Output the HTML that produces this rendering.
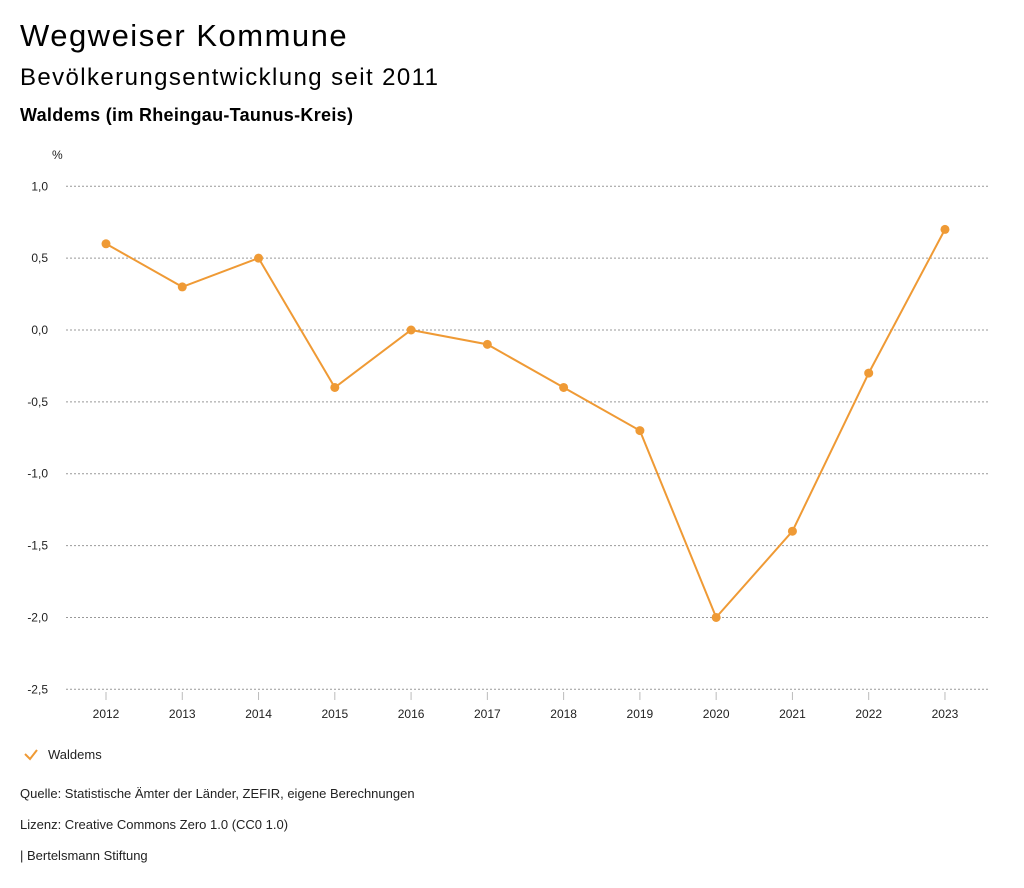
<!DOCTYPE html>
<html><head><meta charset="utf-8"><style>
body{margin:0;width:1024px;height:888px;background:#fff;font-family:"Liberation Sans",sans-serif;color:#000;position:relative;overflow:hidden}
.t{position:absolute;white-space:nowrap}
</style></head><body>
<div class="t" style="left:20px;top:18px;font-size:31px;letter-spacing:1.5px">Wegweiser Kommune</div>
<div class="t" style="left:20px;top:64px;font-size:24px;letter-spacing:1.4px">Bevölkerungsentwicklung seit 2011</div>
<div class="t" style="left:20px;top:105px;font-size:18px;font-weight:bold;letter-spacing:0.3px">Waldems (im Rheingau-Taunus-Kreis)</div>
<svg id="chart" width="1024" height="888" style="position:absolute;left:0;top:0"></svg>
<div class="t" style="left:20px;top:786px;font-size:13px;color:#222">Quelle: Statistische Ämter der Länder, ZEFIR, eigene Berechnungen</div>
<div class="t" style="left:20px;top:817px;font-size:13px;color:#222">Lizenz: Creative Commons Zero 1.0 (CC0 1.0)</div>
<div class="t" style="left:20px;top:848px;font-size:13px;color:#222">| Bertelsmann Stiftung</div>
<script>
const years=["2012","2013","2014","2015","2016","2017","2018","2019","2020","2021","2022","2023"];
const values=[0.6,0.3,0.5,-0.4,0.0,-0.1,-0.4,-0.7,-2.0,-1.4,-0.3,0.7];
const yTicks=[1.0,0.5,0.0,-0.5,-1.0,-1.5,-2.0,-2.5];
const yTickLabels=["1,0","0,5","0,0","-0,5","-1,0","-1,5","-2,0","-2,5"];
const seriesName="Waldems";
const NS="http://www.w3.org/2000/svg";
const svg=document.getElementById('chart');
const col="#ef9a35";
function y(v){return 330-(v/0.5)*71.86;}
function x(i){return 106+i*76.27;}
function mk(t,a,p){const e=document.createElementNS(NS,t);for(const k in a)e.setAttribute(k,a[k]);(p||svg).appendChild(e);return e;}
let u=mk('text',{x:52,y:159,'font-size':12,fill:'#222'});u.textContent='%';


yTicks.forEach((v,i)=>{
 const g=mk('line',{x1:66,x2:990,y1:y(v),y2:y(v),stroke:'#999','stroke-dasharray':'2,2','stroke-width':1});
 
 
 const t=mk('text',{x:48,y:y(v)+4,'text-anchor':'end','font-size':12,fill:'#222'});t.textContent=yTickLabels[i];
 
 
});
years.forEach((yr,i)=>{
 const l=mk('line',{x1:x(i),x2:x(i),y1:692,y2:700,stroke:'#bbb'});
 
 
 const t=mk('text',{x:x(i),y:718,'text-anchor':'middle','font-size':12,fill:'#222'});t.textContent=yr;
 
 
});
const pl=mk('polyline',{points:values.map((v,i)=>x(i)+','+y(v)).join(' '),fill:'none',stroke:col,'stroke-width':2});


values.forEach((v,i)=>{
 const c=mk('circle',{cx:x(i),cy:y(v),r:4.5,fill:col});
 
 
});
const lg=mk('path',{d:'M25 754 L30 759 L37 750',fill:'none',stroke:col,'stroke-width':2});


const lt=mk('text',{x:48,y:759,'font-size':13,fill:'#222'});lt.textContent=seriesName;


</script>
</body></html>
